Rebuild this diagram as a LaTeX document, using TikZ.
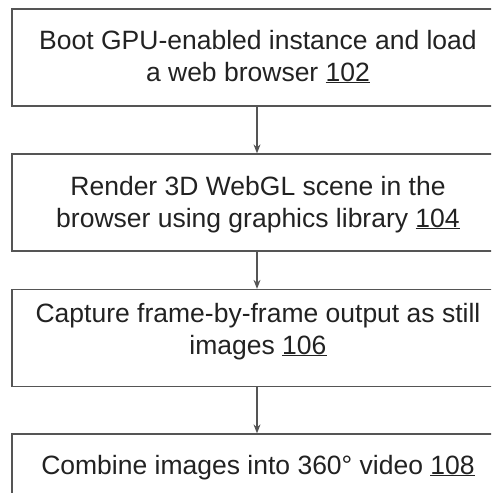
\documentclass[tikz,border=0pt]{standalone}
\usepackage{fontspec}
\setmainfont{Liberation Sans}
\usetikzlibrary{arrows.meta}
\definecolor{linegray}{HTML}{555555}
\definecolor{txtgray}{HTML}{222222}
\begin{document}
\begin{tikzpicture}[x=1pt,y=-1pt,
  stepbox/.style={draw=linegray,line width=1.3pt,rectangle,minimum width=490pt,minimum height=97pt,inner sep=0pt},
  txt/.style={text=txtgray,font=\fontsize{26.5}{31.5}\selectfont,align=center,inner sep=0pt},
  flow/.style={draw=linegray,line width=1.2pt,-{Stealth[length=9pt,width=7pt]}}]
\useasboundingbox (0,0) rectangle (491,493);
\clip (0,0) rectangle (491,493);
\node[stepbox] (b1) at (257,57.5) {};
\node[stepbox] (b2) at (257,202.5) {};
\node[stepbox] (b3) at (257,338) {};
\node[stepbox] (b4) at (257,482.5) {};
\node[txt,anchor=base] (t1) at (258,81) {Boot GPU-enabled instance and load\\a web browser \underline{102}};
\node[txt,anchor=base] (t2) at (258,227) {Render 3D WebGL scene in the\\browser using graphics library \underline{104}};
\node[txt,anchor=base] (t3) at (258,354) {Capture frame-by-frame output as still\\images \underline{106}};
\node[txt,anchor=base] (t4) at (258,474) {Combine images into 360° video \underline{108}};
\draw[flow] (b1.south) -- (b2.north);
\draw[flow] (b2.south) -- (b3.north);
\draw[flow] (b3.south) -- (b4.north);
\end{tikzpicture}
\end{document}
